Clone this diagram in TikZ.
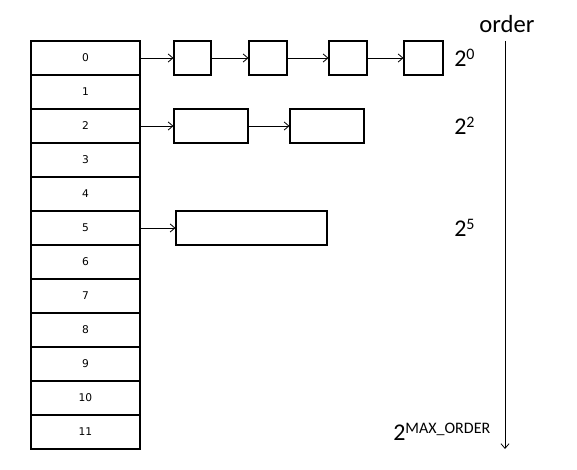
\documentclass[tikz,border=0pt]{standalone}
\usepackage{fontspec}
\setmainfont{Carlito}
\newfontfamily\cellfont{DejaVu Sans}
\usetikzlibrary{arrows.meta}
\newcommand{\pw}[1]{{\fontsize{18}{18}\selectfont 2}\raisebox{5.6pt}{\fontsize{12}{12}\selectfont #1}}

\begin{document}
\begin{tikzpicture}[x=0.75pt,y=-0.75pt]
\useasboundingbox (0,0) rectangle (577,470);
\begin{scope}
	\tikzstyle{every node}=[inner sep=0pt, align=center]
	\tikzstyle{cell}=[draw, line width=0.8pt, minimum width=81.75pt, minimum height=25.5pt, font=\cellfont\fontsize{8}{9}\selectfont]
	\tikzstyle{blk}=[draw, line width=0.8pt, minimum height=25.5pt]
	\tikzstyle{link}=[line width=0.6pt, -{Straight Barb[length=3.5pt,width=6pt]}]
	% free area table
	\foreach \i in {0,...,11}
		\node[cell] (r\i) at (85.5, 58+34*\i) {\i};
	% order 0 blocks
	\node[blk, minimum width=27.75pt] (a1) at (192.5,58) {};
	\node[blk, minimum width=28.5pt] (a2) at (268,58) {};
	\node[blk, minimum width=28.5pt] (a3) at (348,58) {};
	\node[blk, minimum width=29.25pt] (a4) at (423.5,58) {};
	% order 2 blocks
	\node[blk, minimum width=55.5pt] (b1) at (211,126) {};
	\node[blk, minimum width=55.5pt] (b2) at (327,126) {};
	% order 5 block
	\node[blk, minimum width=113.25pt] (c1) at (251.5,228) {};
	
	\node[anchor=west] (p0) at (454,58) {\pw{0}};
	\node[anchor=west] (p2) at (454,126) {\pw{2}};
	\node[anchor=west] (p5) at (454,228) {\pw{5}};
	\node[anchor=west] (pmax) at (393,432) {\pw{MAX\_ORDER}};
	\node[font=\fontsize{18.5}{18.5}\selectfont] (ord) at (507,24) {order};
	\coordinate (otop) at (505,41);
	\coordinate (obot) at (505,449);
	
	\draw [link] (r0.east) -- (a1.west);
	\draw [link] (a1) -- (a2);
	\draw [link] (a2) -- (a3);
	\draw [link] (a3) -- (a4);
	\draw [link] (r2.east) -- (b1.west);
	\draw [link] (b1) -- (b2);
	\draw [link] (r5.east) -- (c1.west);
	\draw [link] (otop) -- (obot);
\end{scope}
\end{tikzpicture}
\end{document}
